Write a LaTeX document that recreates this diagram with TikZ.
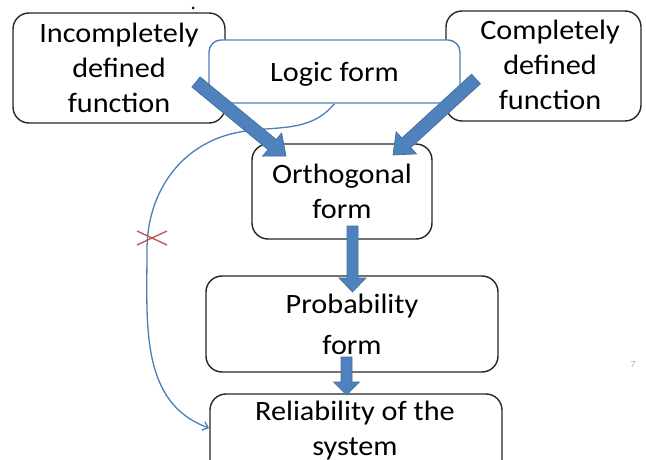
\documentclass[tikz,border=0pt]{standalone}
\usepackage{fontspec}
\setmainfont{Carlito}[FakeStretch=1.08]
\usetikzlibrary{calc,arrows.meta}

\definecolor{arrowfill}{HTML}{4F81BD}
\definecolor{arrowedge}{HTML}{41719C}
\definecolor{curveblue}{HTML}{4A7EBB}
\definecolor{crossred}{HTML}{C0504D}
\definecolor{boxline}{HTML}{262626}

% wide filled arrow: name, tail, tip, half shaft width, half head width, head length
\newcommand{\blockarrow}[6]{%
  \coordinate (#1-h) at ($(#3)!#6!(#2)$);
  \draw[fatarrow] ($(#2)!#4!90:(#3)$) -- ($(#1-h)!#4!90:(#3)$)
    -- ($(#1-h)!#5!90:(#3)$) -- (#3) -- ($(#1-h)!#5!-90:(#3)$)
    -- ($(#1-h)!#4!-90:(#3)$) -- ($(#2)!#4!-90:(#3)$) -- cycle;}

\begin{document}
\begin{tikzpicture}[x=1pt,y=1pt,
  box/.style={draw=boxline, line width=1.4pt, rounded corners=16pt, fill=white,
    inner sep=0pt, align=center, font=\fontsize{28}{35}\selectfont},
  logicbox/.style={box, draw=arrowfill, rounded corners=12pt},
  txt/.style={align=center, font=\fontsize{28}{35}\selectfont},
  fatarrow/.style={fill=arrowfill, draw=arrowedge, line width=0.7pt, line join=miter},
  curve/.style={draw=curveblue, line width=1.3pt, -{Straight Barb[length=5pt,width=9pt]}},
  cross/.style={draw=crossred, line width=1.3pt}]
\useasboundingbox (0,0) rectangle (646,459);
\clip (0,0) rectangle (646,459);

% stray full stop above the first box
\fill[black] (193,451) circle (1.5pt);

% source boxes
\node[box, minimum width=212, minimum height=110] (idf) at (119,391)
  {Incompletely\\defined\\function};
\node[box, minimum width=195, minimum height=110] (cdf) at (543.5,393) {};
\node[txt] (cdft) at (550,394.5) {Completely\\defined\\function};
\node[logicbox, minimum width=251, minimum height=63, text depth=0pt] (logic) at (334.5,387.5) {Logic form};

% conversion chain
\node[box, minimum width=180, minimum height=95] (orth) at (342,267.5) {Orthogonal\\form};
\node[box, minimum width=292, minimum height=96, font=\fontsize{28}{41}\selectfont] (prob) at (352,135)
  {Probability\\form};
\node[box, minimum width=292, minimum height=96] (rel) at (356,17) {};
\node[txt] (relt) at (355,28.5) {Reliability of the\\system};

% direct route from the logic form to the reliability
\coordinate (k1) at (240,327);
\coordinate (k2) at (147,209);
\coordinate (curveend) at (209,31);
\draw[curve] (logic.south) to[out=-130,in=10] (k1) to[out=190,in=90] (k2)
  to[out=270,in=160] (curveend);
\draw[cross] (137,228) -- (167,214);
\draw[cross] (137,214) -- (167,228);

% wide arrows between the forms
\coordinate (a1t) at (196,377);
\coordinate (a1h) at (286,303);
\coordinate (a2t) at (476,380);
\coordinate (a2h) at (393,304);
\coordinate (a3t) at (352.5,233);
\coordinate (a3h) at (352.5,167);
\coordinate (a4t) at (346.5,102);
\coordinate (a4h) at (346.5,64);
\blockarrow{ar1}{a1t}{a1h}{6.5pt}{15pt}{18pt}
\blockarrow{ar2}{a2t}{a2h}{6.5pt}{15pt}{18pt}
\blockarrow{ar3}{a3t}{a3h}{5.5pt}{13.5pt}{14pt}
\blockarrow{ar4}{a4t}{a4h}{5.5pt}{13pt}{13pt}

% slide number
\node[text=black!35, font=\fontsize{9}{10}\selectfont] (pagenum) at (633,94) {7};
\end{tikzpicture}
\end{document}
